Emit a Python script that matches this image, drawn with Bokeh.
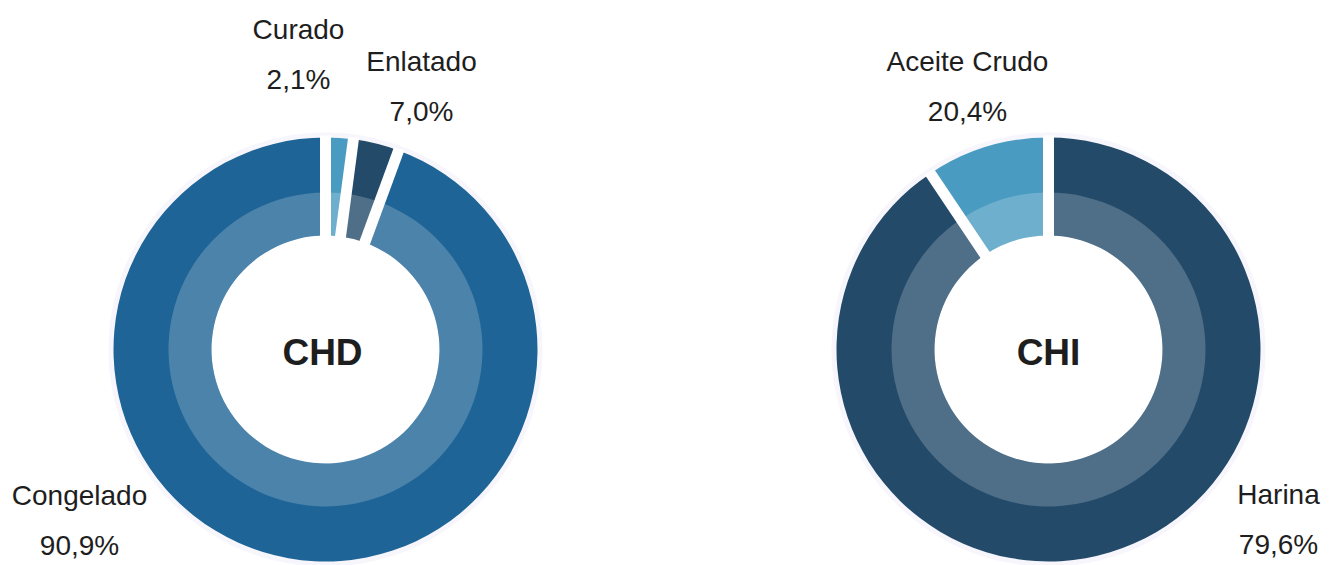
import numpy as np
from bokeh.plotting import figure
from bokeh.models import Range1d, ColumnDataSource
from bokeh.core.properties import value
from bokeh.embed import file_html
from bokeh.resources import INLINE

# ---------------- data ----------------
chd_categories = ["Curado", "Enlatado", "Congelado"]
chd_slice_share = [2.1, 3.5, 94.4]          # slice sizes as drawn in the picture (%)
chd_label_pct = ["2,1%", "7,0%", "90,9%"]   # printed labels
chd_colors = ["#4a9bc1", "#234a69", "#1e6497"]

chi_categories = ["Harina", "Aceite Crudo"]
chi_slice_share = [90.6, 9.4]
chi_label_pct = ["79,6%", "20,4%"]
chi_colors = ["#234a69", "#4a9bc1"]

center_titles = ["CHD", "CHI"]

# ---------------- layout ----------------
W, H = 1332, 565
TOP = H  # data y = TOP - screen y
TEXT_SHIFT = 12  # compensate renderer baseline offset

def sy(y):
    return TOP - y

R_OUT, R_MID, R_IN = 212, 157, 114
GAP = 11

p = figure(width=W, height=H, x_range=Range1d(0, W), y_range=Range1d(0, H),
           output_backend="svg", toolbar_location=None, min_border=0)
p.axis.visible = False
p.grid.visible = False
p.outline_line_color = None
p.background_fill_color = "white"
p.border_fill_color = "white"

label_font = value("Liberation Sans")
title_font = value("Liberation Sans")
text_color = "#1e1e1e"


def donut(cx, cy, shares, colors):
    frac = np.array(shares, dtype=float) / float(sum(shares))
    cum = np.concatenate([[0.0], np.cumsum(frac)])
    start = np.pi / 2 - 2 * np.pi * cum[:-1]
    end = np.pi / 2 - 2 * np.pi * cum[1:]
    src = ColumnDataSource(dict(start=start, end=end, color=colors))
    # faint halo
    p.annulus(x=cx, y=cy, inner_radius=R_OUT - 1, outer_radius=R_OUT + 5,
              fill_color="#f6f6fc", line_color=None)
    p.annular_wedge(x=cx, y=cy, inner_radius=R_IN, outer_radius=R_OUT,
                    start_angle="start", end_angle="end", direction="clock",
                    fill_color="color", line_color=None, source=src)
    p.annular_wedge(x=cx, y=cy, inner_radius=R_IN, outer_radius=R_MID,
                    start_angle="start", end_angle="end", direction="clock",
                    fill_color="white", fill_alpha=0.2, line_color=None, source=src)
    r0, r1 = R_IN - 10, R_OUT + 2
    p.segment(x0=cx + r0 * np.cos(start), y0=cy + r0 * np.sin(start),
              x1=cx + r1 * np.cos(start), y1=cy + r1 * np.sin(start),
              line_color="white", line_width=GAP)


left_c = (325, sy(349))
right_c = (1048, sy(349))
donut(*left_c, chd_slice_share, chd_colors)
donut(*right_c, chi_slice_share, chi_colors)

# category labels (name + percentage below)
name_pos = {"Curado": (298, 41), "Enlatado": (421, 73), "Congelado": (79, 507),
            "Harina": (1278, 506), "Aceite Crudo": (967, 73)}
names = chd_categories + chi_categories
pcts = chd_label_pct + chi_label_pct
lx = [name_pos[n][0] for n in names]
ly = [sy(name_pos[n][1] - TEXT_SHIFT) for n in names]
ly2 = [sy(name_pos[n][1] + 50 - TEXT_SHIFT) for n in names]

p.text(x=lx, y=ly, text=names, text_font=label_font, text_font_size="28px",
       text_align="center", text_baseline="alphabetic", text_color=text_color)
p.text(x=lx, y=ly2, text=pcts, text_font=label_font, text_font_size="28px",
       text_align="center", text_baseline="alphabetic", text_color=text_color)

p.text(x=[left_c[0] - 3, right_c[0]], y=[sy(364 - TEXT_SHIFT)] * 2, text=center_titles,
       text_font=title_font, text_font_size="37px", text_font_style="bold",
       text_align="center", text_baseline="alphabetic", text_color=text_color)

open("out.html", "w").write(file_html(p, INLINE))
